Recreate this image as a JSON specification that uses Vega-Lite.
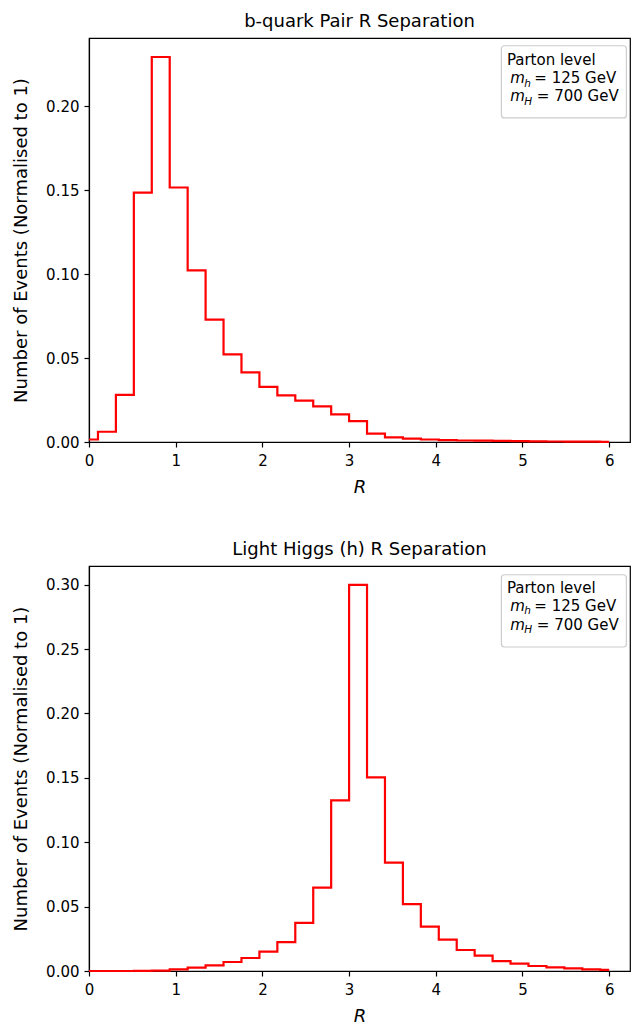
{
  "$schema": "https://vega.github.io/schema/vega-lite/v6.json",
  "background": "white",
  "padding": {"left": 12, "top": 12, "right": 0, "bottom": 0},
  "spacing": 43,
  "config": {
    "font": "DejaVu Sans",
    "view": {"stroke": "black", "strokeWidth": 1.2},
    "axis": {
      "domainColor": "black", "domainWidth": 1.2,
      "tickColor": "black", "tickWidth": 1.2, "tickSize": 5,
      "labelColor": "black", "labelFontSize": 15, "labelFont": "DejaVu Sans",
      "titleColor": "black", "titleFontSize": 18, "titleFont": "DejaVu Sans", "titleFontWeight": "normal",
      "grid": false, "labelFlush": false, "labelOverlap": false
    },
    "axisX": {"labelPadding": 6, "titlePadding": 10},
    "axisY": {"labelPadding": 5, "titlePadding": 15},
    "title": {"fontSize": 18, "fontWeight": "normal", "color": "black", "font": "DejaVu Sans", "frame": "group", "anchor": "middle", "baseline": "alphabetic", "offset": 7}
  },
  "datasets": {
    "bquark": [
      {"r": 0, "events": 0.0015}, {"r": 0.2069, "events": 0.0061}, {"r": 0.4138, "events": 0.028},
      {"r": 0.6207, "events": 0.1485}, {"r": 0.8276, "events": 0.2292}, {"r": 1.0345, "events": 0.1515},
      {"r": 1.2414, "events": 0.1022}, {"r": 1.4483, "events": 0.0728}, {"r": 1.6552, "events": 0.0522},
      {"r": 1.8621, "events": 0.0415}, {"r": 2.069, "events": 0.0328}, {"r": 2.2759, "events": 0.0278},
      {"r": 2.4828, "events": 0.0246}, {"r": 2.6897, "events": 0.0212}, {"r": 2.8966, "events": 0.0165},
      {"r": 3.1034, "events": 0.0124}, {"r": 3.3103, "events": 0.005}, {"r": 3.5172, "events": 0.0028},
      {"r": 3.7241, "events": 0.002}, {"r": 3.931, "events": 0.0015}, {"r": 4.1379, "events": 0.0011},
      {"r": 4.3448, "events": 0.0009}, {"r": 4.5517, "events": 0.0008}, {"r": 4.7586, "events": 0.0007},
      {"r": 4.9655, "events": 0.0005}, {"r": 5.1724, "events": 0.0004}, {"r": 5.3793, "events": 0.0003},
      {"r": 5.5862, "events": 0.0002}, {"r": 5.7931, "events": 0.0002}, {"r": 6.0, "events": 0.0001}
    ],
    "higgs": [
      {"r": 0, "events": 0}, {"r": 0.2069, "events": 0}, {"r": 0.4138, "events": 0},
      {"r": 0.6207, "events": 0.0001}, {"r": 0.8276, "events": 0.0003}, {"r": 1.0345, "events": 0.0013},
      {"r": 1.2414, "events": 0.0026}, {"r": 1.4483, "events": 0.0044}, {"r": 1.6552, "events": 0.007},
      {"r": 1.8621, "events": 0.0101}, {"r": 2.069, "events": 0.015}, {"r": 2.2759, "events": 0.0225},
      {"r": 2.4828, "events": 0.0373}, {"r": 2.6897, "events": 0.0647}, {"r": 2.8966, "events": 0.1325},
      {"r": 3.1034, "events": 0.2999}, {"r": 3.3103, "events": 0.1503}, {"r": 3.5172, "events": 0.0841},
      {"r": 3.7241, "events": 0.052}, {"r": 3.931, "events": 0.0344}, {"r": 4.1379, "events": 0.0243},
      {"r": 4.3448, "events": 0.0163}, {"r": 4.5517, "events": 0.0119}, {"r": 4.7586, "events": 0.0077},
      {"r": 4.9655, "events": 0.0057}, {"r": 5.1724, "events": 0.0039}, {"r": 5.3793, "events": 0.0028},
      {"r": 5.5862, "events": 0.002}, {"r": 5.7931, "events": 0.0012}, {"r": 6.0, "events": 0.0008}
    ]
  },
  "vconcat": [
    {
      "width": 541, "height": 404,
      "title": "b-quark Pair R Separation",
      "layer": [
        {
          "data": {"name": "bquark"},
          "mark": {"type": "line", "interpolate": "step", "color": "#ff0000", "strokeWidth": 2.2},
          "encoding": {
            "x": {"field": "r", "type": "quantitative", "scale": {"domain": [0, 6.24], "nice": false, "zero": false},
                  "axis": {"title": "R", "titleFontStyle": "italic", "values": [0, 1, 2, 3, 4, 5, 6], "format": "d"}},
            "y": {"field": "events", "type": "quantitative", "scale": {"domain": [0, 0.2405], "nice": false},
                  "axis": {"title": "Number of Events (Normalised to 1)", "values": [0, 0.05, 0.1, 0.15, 0.2], "format": ".2f"}}
          }
        },
        {
          "data": {"values": [{}]},
          "mark": {"type": "rect", "fill": "white", "fillOpacity": 0.8, "stroke": "#cccccc", "strokeWidth": 1.2, "cornerRadius": 3},
          "encoding": {
            "x": {"datum": 4.757, "type": "quantitative"}, "x2": {"datum": 6.198},
            "y": {"datum": 0.2359, "type": "quantitative"}, "y2": {"datum": 0.1929}
          }
        },
        {
          "data": {"values": [{}]},
          "mark": {"type": "text", "text": "Parton level", "align": "left", "baseline": "alphabetic", "fontSize": 15, "color": "black"},
          "encoding": {"x": {"datum": 4.82, "type": "quantitative"}, "y": {"datum": 0.2246, "type": "quantitative"}}
        },
        {
          "data": {"values": [{}]},
          "mark": {"type": "text", "text": "m", "fontStyle": "italic", "align": "left", "baseline": "alphabetic", "fontSize": 15, "color": "black"},
          "encoding": {"x": {"datum": 4.86, "type": "quantitative"}, "y": {"datum": 0.2135, "type": "quantitative"}}
        },
        {
          "data": {"values": [{}]},
          "mark": {"type": "text", "text": "h", "fontStyle": "italic", "align": "left", "baseline": "alphabetic", "fontSize": 10.5, "dx": 14, "dy": 3.5, "color": "black"},
          "encoding": {"x": {"datum": 4.86, "type": "quantitative"}, "y": {"datum": 0.2135, "type": "quantitative"}}
        },
        {
          "data": {"values": [{}]},
          "mark": {"type": "text", "text": "= 125 GeV", "align": "left", "baseline": "alphabetic", "fontSize": 15, "dx": 24, "color": "black"},
          "encoding": {"x": {"datum": 4.86, "type": "quantitative"}, "y": {"datum": 0.2135, "type": "quantitative"}}
        },
        {
          "data": {"values": [{}]},
          "mark": {"type": "text", "text": "m", "fontStyle": "italic", "align": "left", "baseline": "alphabetic", "fontSize": 15, "color": "black"},
          "encoding": {"x": {"datum": 4.86, "type": "quantitative"}, "y": {"datum": 0.2027, "type": "quantitative"}}
        },
        {
          "data": {"values": [{}]},
          "mark": {"type": "text", "text": "H", "fontStyle": "italic", "align": "left", "baseline": "alphabetic", "fontSize": 10.5, "dx": 14, "dy": 3.5, "color": "black"},
          "encoding": {"x": {"datum": 4.86, "type": "quantitative"}, "y": {"datum": 0.2027, "type": "quantitative"}}
        },
        {
          "data": {"values": [{}]},
          "mark": {"type": "text", "text": "= 700 GeV", "align": "left", "baseline": "alphabetic", "fontSize": 15, "dx": 26.5, "color": "black"},
          "encoding": {"x": {"datum": 4.86, "type": "quantitative"}, "y": {"datum": 0.2027, "type": "quantitative"}}
        }
      ]
    },
    {
      "width": 541, "height": 405,
      "title": "Light Higgs (h) R Separation",
      "layer": [
        {
          "data": {"name": "higgs"},
          "mark": {"type": "line", "interpolate": "step", "color": "#ff0000", "strokeWidth": 2.2},
          "encoding": {
            "x": {"field": "r", "type": "quantitative", "scale": {"domain": [0, 6.24], "nice": false, "zero": false},
                  "axis": {"title": "R", "titleFontStyle": "italic", "values": [0, 1, 2, 3, 4, 5, 6], "format": "d"}},
            "y": {"field": "events", "type": "quantitative", "scale": {"domain": [0, 0.3145], "nice": false},
                  "axis": {"title": "Number of Events (Normalised to 1)", "values": [0, 0.05, 0.1, 0.15, 0.2, 0.25, 0.3], "format": ".2f"}}
          }
        },
        {
          "data": {"values": [{}]},
          "mark": {"type": "rect", "fill": "white", "fillOpacity": 0.8, "stroke": "#cccccc", "strokeWidth": 1.2, "cornerRadius": 3},
          "encoding": {
            "x": {"datum": 4.757, "type": "quantitative"}, "x2": {"datum": 6.198},
            "y": {"datum": 0.3077, "type": "quantitative"}, "y2": {"datum": 0.2516}
          }
        },
        {
          "data": {"values": [{}]},
          "mark": {"type": "text", "text": "Parton level", "align": "left", "baseline": "alphabetic", "fontSize": 15, "color": "black"},
          "encoding": {"x": {"datum": 4.82, "type": "quantitative"}, "y": {"datum": 0.2937, "type": "quantitative"}}
        },
        {
          "data": {"values": [{}]},
          "mark": {"type": "text", "text": "m", "fontStyle": "italic", "align": "left", "baseline": "alphabetic", "fontSize": 15, "color": "black"},
          "encoding": {"x": {"datum": 4.86, "type": "quantitative"}, "y": {"datum": 0.2797, "type": "quantitative"}}
        },
        {
          "data": {"values": [{}]},
          "mark": {"type": "text", "text": "h", "fontStyle": "italic", "align": "left", "baseline": "alphabetic", "fontSize": 10.5, "dx": 14, "dy": 3.5, "color": "black"},
          "encoding": {"x": {"datum": 4.86, "type": "quantitative"}, "y": {"datum": 0.2797, "type": "quantitative"}}
        },
        {
          "data": {"values": [{}]},
          "mark": {"type": "text", "text": "= 125 GeV", "align": "left", "baseline": "alphabetic", "fontSize": 15, "dx": 24, "color": "black"},
          "encoding": {"x": {"datum": 4.86, "type": "quantitative"}, "y": {"datum": 0.2797, "type": "quantitative"}}
        },
        {
          "data": {"values": [{}]},
          "mark": {"type": "text", "text": "m", "fontStyle": "italic", "align": "left", "baseline": "alphabetic", "fontSize": 15, "color": "black"},
          "encoding": {"x": {"datum": 4.86, "type": "quantitative"}, "y": {"datum": 0.265, "type": "quantitative"}}
        },
        {
          "data": {"values": [{}]},
          "mark": {"type": "text", "text": "H", "fontStyle": "italic", "align": "left", "baseline": "alphabetic", "fontSize": 10.5, "dx": 14, "dy": 3.5, "color": "black"},
          "encoding": {"x": {"datum": 4.86, "type": "quantitative"}, "y": {"datum": 0.265, "type": "quantitative"}}
        },
        {
          "data": {"values": [{}]},
          "mark": {"type": "text", "text": "= 700 GeV", "align": "left", "baseline": "alphabetic", "fontSize": 15, "dx": 26.5, "color": "black"},
          "encoding": {"x": {"datum": 4.86, "type": "quantitative"}, "y": {"datum": 0.265, "type": "quantitative"}}
        }
      ]
    }
  ]
}
